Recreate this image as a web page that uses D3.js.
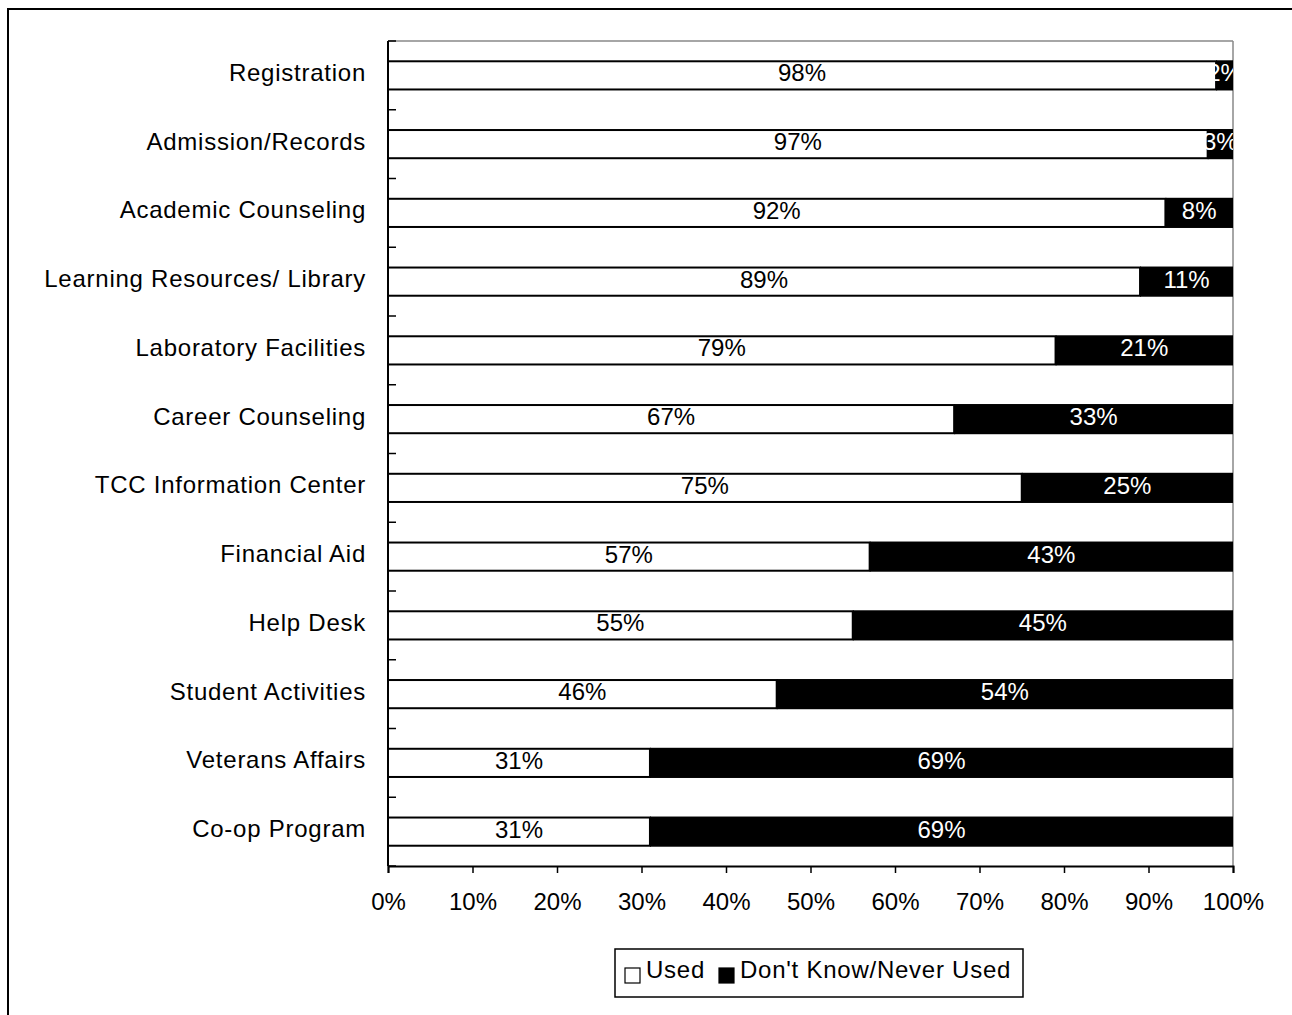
<!DOCTYPE html>
<html><head><meta charset="utf-8">
<script src="https://cdn.jsdelivr.net/npm/d3@7/dist/d3.min.js"></script>
<style>
html,body{margin:0;padding:0;background:#fff;}
svg{display:block;}
text{font-family:"Liberation Sans",Arial,sans-serif;}
</style></head>
<body>
<svg id="chart" width="1292" height="1015"></svg>
<script>
const categories = ["Registration","Admission/Records","Academic Counseling","Learning Resources/ Library","Laboratory Facilities","Career Counseling","TCC Information Center","Financial Aid","Help Desk","Student Activities","Veterans Affairs","Co-op Program"];
const used = [98,97,92,89,79,67,75,57,55,46,31,31];
const neverUsed = [2,3,8,11,21,33,25,43,45,54,69,69];
const seriesNames = ["Used","Don't Know/Never Used"];
const xTicks = [0,10,20,30,40,50,60,70,80,90,100];

const svg = d3.select("#chart");
// outer frame (cropped on right/bottom)
svg.append("rect").attr("x",8).attr("y",9).attr("width",1400).attr("height",1100)
  .attr("fill","none").attr("stroke","#000").attr("stroke-width",2);

const m = {left:388, top:41, right:1233, bottom:866};
const x = d3.scaleLinear().domain([0,100]).range([m.left,m.right]);
const y = d3.scaleBand().domain(categories).range([m.top,m.bottom]).paddingInner(0.59).paddingOuter(0.295);
const yb = d3.scaleBand().domain(categories).range([m.top,m.bottom]);

svg.append("defs").append("clipPath").attr("id","clip").append("rect")
  .attr("x",m.left).attr("y",m.top).attr("width",m.right-m.left).attr("height",m.bottom-m.top);

svg.append("line").attr("x1",m.left).attr("x2",m.right).attr("y1",m.top).attr("y2",m.top).attr("stroke","#888").attr("stroke-width",1.5);
svg.append("line").attr("x1",m.right).attr("x2",m.right).attr("y1",m.top).attr("y2",m.bottom).attr("stroke","#888").attr("stroke-width",1.5);

const data = categories.map((c,i)=>({c, u:used[i], n:neverUsed[i]}));
const g = svg.append("g").attr("clip-path","url(#clip)");
const rows = g.selectAll("g.row").data(data).join("g").attr("class","row");
rows.append("rect").attr("x",x(0)).attr("y",d=>y(d.c)).attr("width",d=>x(d.u)-x(0)).attr("height",y.bandwidth())
  .attr("fill","#fff").attr("stroke","#000").attr("stroke-width",2);
rows.append("rect").attr("x",d=>x(d.u)).attr("y",d=>y(d.c)-1).attr("width",d=>x(d.u+d.n)-x(d.u)).attr("height",y.bandwidth()+2)
  .attr("fill","#000");
rows.append("text").attr("x",d=>(x(0)+x(d.u))/2).attr("y",d=>y(d.c)+y.bandwidth()/2+6)
  .attr("text-anchor","middle").attr("font-size",24).attr("fill","#000").text(d=>d.u+"%");
rows.append("text").attr("x",d=>(x(d.u)+x(d.u+d.n))/2).attr("y",d=>y(d.c)+y.bandwidth()/2+6)
  .attr("text-anchor","middle").attr("font-size",24).attr("fill","#fff").text(d=>d.n+"%");

svg.append("line").attr("x1",m.left).attr("x2",m.left).attr("y1",m.top).attr("y2",m.bottom).attr("stroke","#000").attr("stroke-width",2);
const bounds = categories.map(c=>yb(c)).concat([m.bottom]);
svg.selectAll("line.yt").data(bounds).join("line").attr("class","yt")
  .attr("x1",m.left).attr("x2",m.left+8).attr("y1",d=>d).attr("y2",d=>d).attr("stroke","#000").attr("stroke-width",1.5);
svg.selectAll("text.cat").data(categories).join("text").attr("class","cat")
  .attr("x",366).attr("y",c=>y(c)+y.bandwidth()/2+5.5).attr("text-anchor","end")
  .attr("font-size",24).attr("letter-spacing","0.75px").text(c=>c);

const xa = svg.append("g").attr("transform",`translate(0,${m.bottom})`)
  .call(d3.axisBottom(x).tickValues(xTicks).tickSize(7).tickFormat(d=>d+"%"));
xa.select(".domain").attr("stroke","#000").attr("stroke-width",2);
xa.selectAll(".tick line").attr("stroke","#000").attr("stroke-width",1.5);
xa.selectAll(".tick text").attr("font-size",24).attr("font-family","Liberation Sans, Arial, sans-serif")
  .attr("fill","#000").attr("y",44).attr("dy","0");

const lg = svg.append("g");
lg.append("rect").attr("x",615).attr("y",949).attr("width",408).attr("height",48).attr("fill","#fff").attr("stroke","#000").attr("stroke-width",1.5);
const items = [{n:seriesNames[0],f:"#fff",sx:625,tx:646},{n:seriesNames[1],f:"#000",sx:719,tx:740}];
items.forEach(it=>{
  lg.append("rect").attr("x",it.sx).attr("y",968).attr("width",15).attr("height",15).attr("fill",it.f).attr("stroke","#000").attr("stroke-width",1.2);
  lg.append("text").attr("x",it.tx).attr("y",978).attr("font-size",24).attr("letter-spacing","0.75px").text(it.n);
});
</script>
</body></html>
